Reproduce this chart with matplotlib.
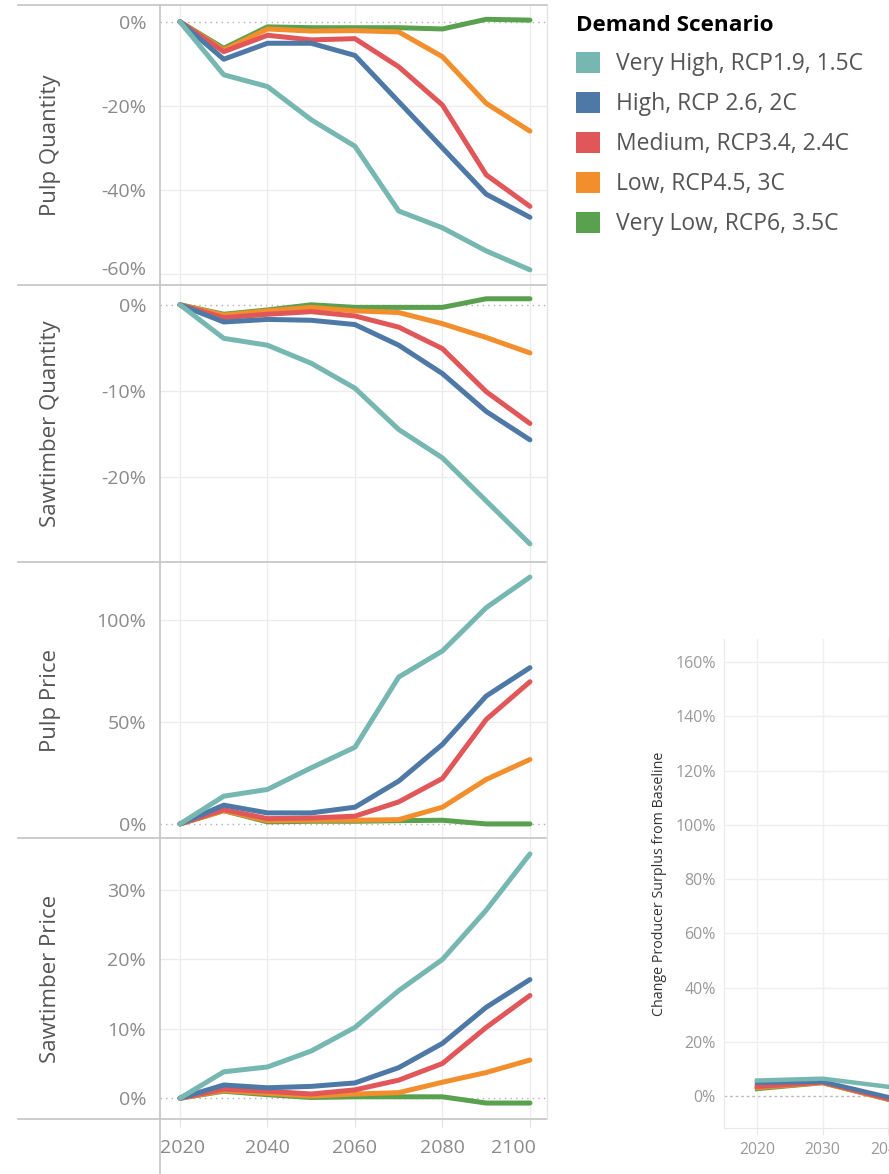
import matplotlib.pyplot as plt
from matplotlib.lines import Line2D
from matplotlib.patches import Patch
from matplotlib.ticker import FuncFormatter
from matplotlib.transforms import ScaledTranslation

plt.rcParams['font.family'] = ['Open Sans', 'DejaVu Sans']

W, H = 889, 1174

years = [2020, 2030, 2040, 2050, 2060, 2070, 2080, 2090, 2100]
scenarios = ['Very High, RCP1.9, 1.5C', 'High, RCP 2.6, 2C', 'Medium, RCP3.4, 2.4C',
             'Low, RCP4.5, 3C', 'Very Low, RCP6, 3.5C']
colors = ['#76b7b2', '#4e79a7', '#e15759', '#f28e2b', '#59a14f']

# % change from baseline, one row per scenario (same order as above)
pulp_qty = [
    [0, -12.6, -15.4, -23.3, -29.6, -45.0, -49.0, -54.5, -59.0],
    [0, -8.9, -5.1, -5.1, -8.0, -19.0, -30.0, -41.0, -46.5],
    [0, -7.1, -3.2, -4.3, -4.0, -10.7, -19.8, -36.4, -43.9],
    [0, -6.7, -1.7, -2.2, -2.1, -2.4, -8.3, -19.4, -26.0],
    [0, -6.3, -1.2, -1.4, -1.4, -1.4, -1.7, 0.6, 0.4],
]
saw_qty = [
    [0, -3.9, -4.7, -6.8, -9.7, -14.5, -17.8, -22.8, -27.8],
    [0, -2.0, -1.7, -1.8, -2.3, -4.7, -8.0, -12.4, -15.7],
    [0, -1.5, -1.1, -0.8, -1.3, -2.6, -5.1, -10.1, -13.8],
    [0, -1.2, -0.7, -0.3, -0.7, -0.9, -2.2, -3.8, -5.6],
    [0, -1.1, -0.6, 0.0, -0.3, -0.3, -0.3, 0.7, 0.7],
]
pulp_price = [
    [0, 13.6, 16.9, 27.5, 37.6, 72.0, 84.8, 106.0, 121.0],
    [0, 9.2, 5.4, 5.4, 8.2, 21.0, 39.0, 62.7, 76.6],
    [0, 7.0, 2.6, 2.9, 3.8, 10.8, 22.3, 51.2, 69.7],
    [0, 6.5, 1.6, 1.8, 1.8, 2.1, 8.2, 21.8, 31.6],
    [0, 6.5, 1.0, 1.3, 1.3, 1.6, 1.8, 0.0, 0.0],
]
saw_price = [
    [0, 3.8, 4.5, 6.8, 10.2, 15.5, 20.0, 27.1, 35.2],
    [0, 1.9, 1.5, 1.7, 2.2, 4.4, 7.9, 13.1, 17.1],
    [0, 1.3, 1.0, 0.6, 1.2, 2.6, 5.0, 10.2, 14.8],
    [0, 1.1, 0.7, 0.3, 0.6, 0.8, 2.3, 3.7, 5.5],
    [0, 1.0, 0.5, 0.1, 0.2, 0.2, 0.2, -0.7, -0.7],
]

# second chart (cut off at the right edge)
surplus_years = [2020, 2030, 2040]
surplus = [
    [5.7, 6.4, 3.4],
    [4.9, 5.3, -0.4],
    [3.4, 5.0, -1.1],
    [3.0, 4.8, -1.3],
    [2.6, 4.8, -1.3],
]

panels = [
    ('Pulp Quantity', pulp_qty, [0, -20, -40, -60], (-62.6, 4.0), (5, 285)),
    ('Sawtimber Quantity', saw_qty, [0, -10, -20], (-29.9, 2.3), (285, 562)),
    ('Pulp Price', pulp_price, [0, 50, 100], (-6.9, 128.4), (562, 838)),
    ('Sawtimber Price', saw_price, [0, 10, 20, 30], (-3.0, 37.5), (838, 1119)),
]


def rect(left, top, right, bottom):
    return [left / W, 1 - bottom / H, (right - left) / W, (bottom - top) / H]


def fig_line(fig, x0, y0, x1, y1, color, lw):
    fig.add_artist(Line2D([x0 / W, x1 / W], [1 - y0 / H, 1 - y1 / H],
                          transform=fig.transFigure, color=color, lw=lw))


def shift(label, dx, dy):
    label.set_transform(label.get_transform() + ScaledTranslation(dx / 100, dy / 100, fig.dpi_scale_trans))


pct = FuncFormatter(lambda v, p: '{:.0f}%'.format(v))

fig = plt.figure(figsize=(W / 100, H / 100), dpi=100)

for i, (title, data, ticks, ylim, (top, bottom)) in enumerate(panels):
    ax = fig.add_axes(rect(160, top, 547, bottom))
    for s in ax.spines.values():
        s.set_visible(False)
    ax.set_xlim(2015.43, 2103.9)
    ax.set_ylim(*ylim)
    ax.set_xticks([2020, 2040, 2060, 2080, 2100])
    ax.grid(axis='x', color='#ececec', lw=1)
    for t in ticks:
        if t == 0:
            ax.axhline(0, color='#b0b0b0', lw=1, ls=(0, (1, 3)), zorder=1)
        else:
            ax.axhline(t, color='#ececec', lw=1, zorder=0)
    for k in range(len(scenarios) - 1, -1, -1):
        ax.plot(years, data[k], color=colors[k], lw=3.6, solid_capstyle='round',
                solid_joinstyle='round', zorder=2 + (len(scenarios) - k))
    ax.set_yticks(ticks)
    ax.yaxis.set_major_formatter(pct)
    ax.tick_params(axis='y', length=0, pad=10, labelsize=14, labelcolor='#8a8a8a')
    ax.set_ylabel(title, fontsize=16, color='#555555')
    ax.yaxis.set_label_coords(-0.255, 0.5)
    if i == 0:
        shift(ax.get_yticklabels()[-1], 0, 6)
    if i < 3:
        ax.tick_params(axis='x', length=0, labelbottom=False)
    else:
        ax.tick_params(axis='x', length=6, color='#e2e2e2', pad=8.5, labelsize=14,
                       labelcolor='#8a8a8a')
        labs = ax.get_xticklabels()
        shift(labs[0], 3, 0)
        shift(labs[-1], -17, 0)

# frame lines of the panel grid
for y in [5, 285, 562, 838, 1119]:
    fig_line(fig, 18, y, 547, y, '#c8c8c8', 1.3)
fig_line(fig, 159.5, 5, 159.5, 1174, '#c8c8c8', 1.3)
fig_line(fig, 547, 5, 547, 1119, '#e4e4e4', 1)

# legend
handles = [Patch(facecolor=c, edgecolor='none') for c in colors]
fig.legend(handles, scenarios, loc='upper left', bbox_to_anchor=(576 / W, 1 - 15 / H),
           frameon=False, title='Demand Scenario', alignment='left', fontsize=16.5,
           title_fontproperties={'weight': 'bold', 'size': 16.2}, handlelength=1.05,
           handleheight=1.05, handletextpad=0.7, labelspacing=0.68, borderpad=0,
           borderaxespad=0, labelcolor='#555555')

# second chart, partly outside the figure
ax2 = fig.add_axes(rect(724, 639, 1024, 1128))
ax2.set_xlim(2014.96, 2060.76)
ax2.set_ylim(-11.8, 168.5)
for name, s in ax2.spines.items():
    if name in ('left', 'bottom'):
        s.set_color('#e8e8e8')
    else:
        s.set_visible(False)
ax2.set_xticks([2020, 2030, 2040, 2050, 2060])
ax2.set_yticks(range(0, 161, 20))
ax2.yaxis.set_major_formatter(pct)
ax2.grid(axis='x', color='#efefef', lw=1)
for t in range(20, 161, 20):
    ax2.axhline(t, color='#efefef', lw=1, zorder=0)
ax2.axhline(0, color='#bbbbbb', lw=1, ls=(0, (2, 2)), zorder=1)
for k in range(len(scenarios) - 1, -1, -1):
    ax2.plot(surplus_years, surplus[k], color=colors[k], lw=3.2, zorder=2 + (len(scenarios) - k))
ax2.tick_params(axis='y', length=0, pad=6, labelsize=11.5, labelcolor='#999999')
ax2.tick_params(axis='x', length=5, color='#e8e8e8', pad=5, labelsize=11.3, labelcolor='#999999')
ax2.set_ylabel('Change Producer Surplus from Baseline', fontsize=10.3, color='#333333')
ax2.yaxis.set_label_coords(-0.19, 0.5)

fig.savefig('out.png', dpi=100)
